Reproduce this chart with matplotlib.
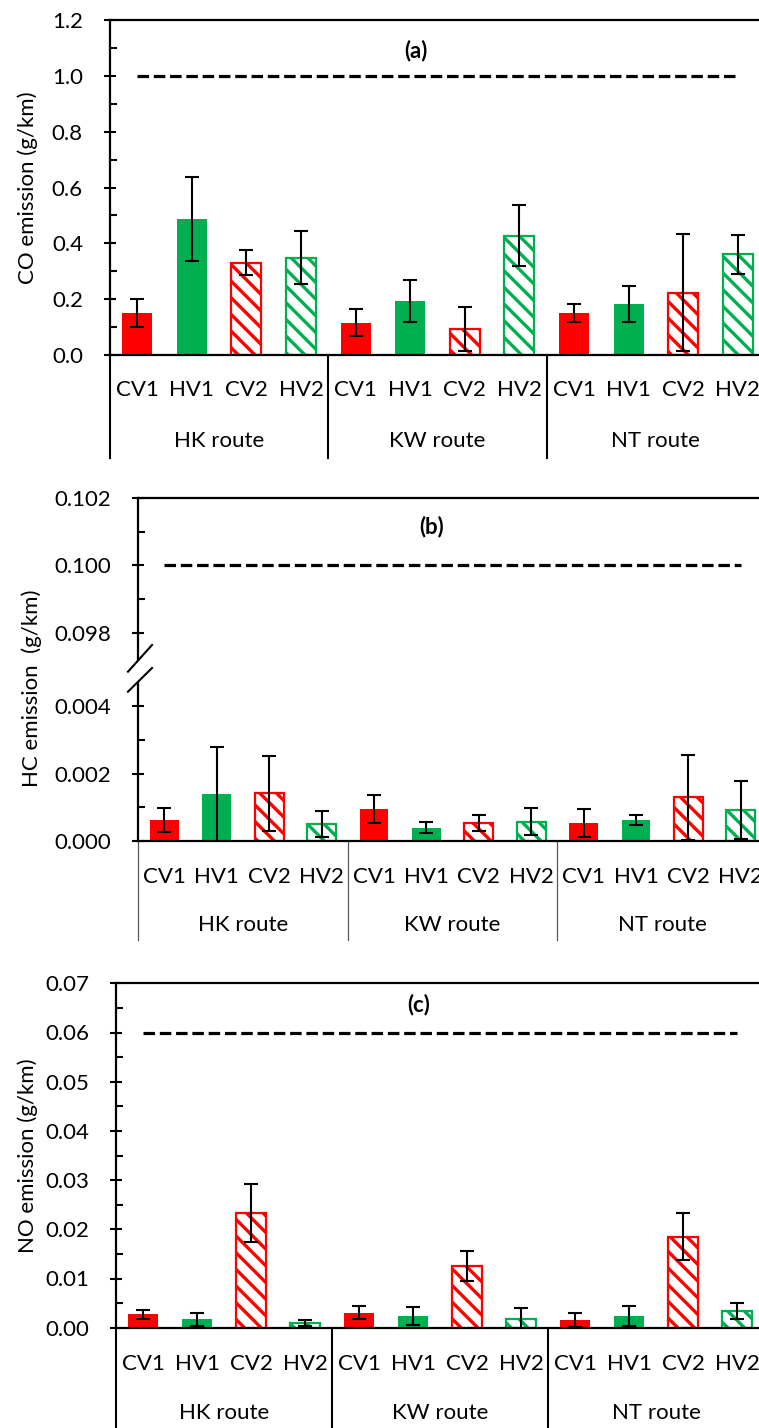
import numpy as np
import matplotlib.pyplot as plt

plt.rcParams.update({'font.family': ['Lato', 'DejaVu Sans'], 'font.size': 16,
                     'hatch.linewidth': 2.4})

categories = ['CV1', 'HV1', 'CV2', 'HV2'] * 3
routes = ['HK route', 'KW route', 'NT route']

# (a) CO emission, g/km
co_mean = [0.149, 0.486, 0.331, 0.349, 0.116, 0.194, 0.093, 0.428, 0.152, 0.182, 0.223, 0.361]
co_err = [0.050, 0.150, 0.046, 0.094, 0.048, 0.074, 0.080, 0.108, 0.032, 0.065, 0.210, 0.070]
co_limit = 1.0

# (b) HC emission, g/km
hc_mean = [0.00062, 0.00139, 0.00141, 0.00051, 0.00094, 0.00040, 0.00054, 0.00057,
           0.00054, 0.00061, 0.00129, 0.00092]
hc_err = [0.00036, 0.00141, 0.00112, 0.00038, 0.00042, 0.00017, 0.00023, 0.00040,
          0.00042, 0.00015, 0.00125, 0.00085]
hc_limit = 0.100

# (c) NO emission, g/km
no_mean = [0.00272, 0.00170, 0.02337, 0.00102, 0.00305, 0.00238, 0.01254, 0.00183,
           0.00150, 0.00238, 0.01850, 0.00340]
no_err = [0.00090, 0.00135, 0.00590, 0.00060, 0.00130, 0.00180, 0.00300, 0.00210,
          0.00140, 0.00200, 0.00480, 0.00160]
no_limit = 0.06

RED = '#ff0000'
GREEN = '#00b050'

W, H = 759, 1428
fig = plt.figure(figsize=(W / 100, H / 100), dpi=100)


def px_axes(left, top, right, bottom):
    return fig.add_axes([left / W, 1 - bottom / H, (right - left) / W, (bottom - top) / H])


def draw_panel(ax, mean, err, limit, tag, tag_y, sep_color, sep_lw, sep_depth, route_y):
    x = np.arange(len(categories))
    for i, (c, m, e) in enumerate(zip(categories, mean, err)):
        col = RED if c.startswith('CV') else GREEN
        if c.endswith('1'):
            ax.bar(i, m, width=0.55, color=col, edgecolor=col, linewidth=0, zorder=2)
        else:
            ax.bar(i, m, width=0.55, facecolor='white', edgecolor=col, hatch='\\\\',
                   linewidth=1.6, zorder=2)
        ax.errorbar(i, m, yerr=e, fmt='none', ecolor='black', elinewidth=1.5,
                    capsize=5, capthick=1.5, zorder=3)
    ax.plot([x[0], x[-1]], [limit, limit], color='black', lw=2.3, dashes=(3.6, 1.5), zorder=2)
    ax.set_xlim(-0.5, len(categories) - 0.5)
    ax.set_xticks([])
    ax.spines['right'].set_visible(False)
    for s in ['left', 'top', 'bottom']:
        ax.spines[s].set_linewidth(1.6)
    ax.tick_params(axis='y', which='major', direction='inout', length=9, width=1.5, pad=15)
    ax.tick_params(axis='y', which='minor', direction='in', length=5, width=1.5)
    tr = ax.get_xaxis_transform()
    for i, c in enumerate(categories):
        ax.text(i, -0.104, c, transform=tr, ha='center', va='center')
    for g, r in enumerate(routes):
        ax.text(4 * g + 1.5, route_y, r, transform=tr, ha='center', va='center')
    for xs in [-0.5, 3.5, 7.5]:
        ax.plot([xs, xs], [0, -sep_depth], transform=tr, color=sep_color, lw=sep_lw, clip_on=False)
    ax.text(0.467, tag_y, tag, transform=ax.transAxes, ha='center', va='center', fontweight='bold')


# panel (a)
ax1 = px_axes(110, 20, 765, 355)
draw_panel(ax1, co_mean, co_err, co_limit, '(a)', 0.91, 'black', 1.5, 0.307, -0.257)
ax1.set_ylim(0, 1.2)
ax1.set_yticks(np.arange(0, 1.21, 0.2))
ax1.set_yticks(np.arange(0.1, 1.2, 0.2), minor=True)
ax1.set_yticklabels([f'{v:.1f}' for v in np.arange(0, 1.21, 0.2)])
fig.text(28 / W, 1 - 188 / H, 'CO emission (g/km)', rotation=90, ha='center', va='center')

# panel (b) with broken y axis
BRK_X = [-1.0, 0.0045, 0.0975, 1.0]
BRK_F = [-1.0, 0.0045, 0.00567, 1.0 - 0.09183]


def fwd(y):
    return np.interp(y, BRK_X, BRK_F)


def inv(v):
    return np.interp(v, BRK_F, BRK_X)


ax2 = px_axes(138.3, 498, 767, 841)
ax2.set_yscale('function', functions=(fwd, inv))
draw_panel(ax2, hc_mean, hc_err, hc_limit, '(b)', 0.916, '#595959', 0.9, 0.289, -0.245)
ax2.set_ylim(0, 0.102)
hc_ticks = [0.0, 0.002, 0.004, 0.098, 0.100, 0.102]
ax2.set_yticks(hc_ticks)
ax2.set_yticklabels([f'{v:.3f}' for v in hc_ticks])
ax2.set_yticks([0.001, 0.003, 0.099, 0.101], minor=True)
# break mark on the left spine
bx = [-0.0164, 0.0218, 0.0218, -0.0164]
by = [0.4936, 0.5714, 0.5044, 0.4353]
ax2.fill(bx, by, color='white', transform=ax2.transAxes, clip_on=False, zorder=5)
ax2.plot(bx[:2], by[:2], color='black', lw=1.5, transform=ax2.transAxes, clip_on=False, zorder=6)
ax2.plot(bx[2:], by[2:], color='black', lw=1.5, transform=ax2.transAxes, clip_on=False, zorder=6)
fig.text(32 / W, 1 - 688 / H, 'HC emission  (g/km)', rotation=90, ha='center', va='center')

# panel (c)
ax3 = px_axes(116, 983.3, 764, 1327.7)
draw_panel(ax3, no_mean, no_err, no_limit, '(c)', 0.937, 'black', 1.5, 0.3, -0.248)
ax3.set_ylim(0, 0.07)
ax3.set_yticks(np.arange(0, 0.071, 0.01))
ax3.set_yticks(np.arange(0.005, 0.07, 0.01), minor=True)
ax3.set_yticklabels([f'{v:.2f}' for v in np.arange(0, 0.071, 0.01)])
fig.text(28 / W, 1 - 1156 / H, 'NO emission (g/km)', rotation=90, ha='center', va='center')

fig.savefig('out.png', dpi=100)
